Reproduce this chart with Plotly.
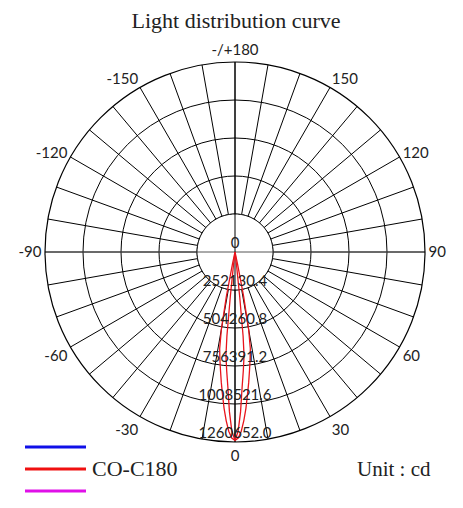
import plotly.graph_objects as go

# ---------------- data ----------------
ring_values = [252130.4, 504260.8, 756391.2, 1008521.6, 1260652.0]
ring_labels = ["252130.4", "504260.8", "756391.2", "1008521.6", "1260652.0"]
r_max = 1260652.0

angle_ticks = list(range(0, 360, 10))
angle_label_map = {0: "0", 30: "30", 60: "60", 90: "90", 120: "120", 150: "150",
                   180: "-/+180", 210: "-150", 240: "-120", 270: "-90", 300: "-60", 330: "-30"}
angle_labels = [angle_label_map.get(a, "") for a in angle_ticks]

# C0-C180 plane (wider lobe)
theta_c0 = [-13, -12, -11, -10, -9, -8, -7, -6, -5, -4, -3, -2, -1, 0,
            1, 2, 3, 4, 5, 6, 7, 8, 9, 10, 11, 12, 13]
cd_c0 = [0, 80000, 300000, 520000, 650000, 720000, 790000, 870000, 950000, 1040000, 1120000, 1190000, 1235000, 1250000,
         1235000, 1190000, 1120000, 1040000, 950000, 870000, 790000, 720000, 650000, 520000, 300000, 80000, 0]

# second plane (narrow lobe)
theta_c90 = [-7, -6.5, -6, -5.5, -5, -4, -3, -2, -1, 0, 1, 2, 3, 4, 5, 5.5, 6, 6.5, 7]
cd_c90 = [0, 100000, 300000, 560000, 690000, 790000, 900000, 1060000, 1190000, 1250000,
          1190000, 1060000, 900000, 790000, 690000, 560000, 300000, 100000, 0]

# ---------------- figure ----------------
OFF = 8                      # page body margin of the browser
W, H = 463 - OFF, 508 - OFF
L, T, D = 45 - OFF, 62 - OFF, 380  # plot area left, top, size (in figure px)
fig = go.Figure()

# white inner disk hiding spokes
circ_theta = list(range(0, 361, 2))
fig.add_trace(go.Scatterpolar(r=[ring_values[0]] * len(circ_theta), theta=circ_theta,
                              mode="lines", fill="toself", fillcolor="white",
                              line=dict(color="black", width=1), hoverinfo="skip", showlegend=False))
# axes through centre
fig.add_trace(go.Scatterpolar(r=[r_max, 0, r_max], theta=[90, 90, 270], mode="lines",
                              line=dict(color="#555555", width=1), hoverinfo="skip", showlegend=False))
fig.add_trace(go.Scatterpolar(r=[r_max, 0, r_max], theta=[0, 0, 180], mode="lines",
                              line=dict(color="black", width=1), hoverinfo="skip", showlegend=False))

# curves
fig.add_trace(go.Scatterpolar(r=cd_c0, theta=theta_c0, mode="lines",
                              line=dict(color="#e8141c", width=1.3), showlegend=False))
fig.add_trace(go.Scatterpolar(r=cd_c90, theta=theta_c90, mode="lines",
                              line=dict(color="#e8141c", width=1.3), showlegend=False))

# ring labels
fig.add_trace(go.Scatterpolar(r=[0] + ring_values, theta=[0] * (len(ring_values) + 1),
                              mode="text", text=["0"] + ring_labels, textposition="top center",
                              textfont=dict(family="Lato, sans-serif", size=15, color="#222222"),
                              hoverinfo="skip", showlegend=False))

fig.update_layout(
    width=W, height=H,
    margin=dict(l=L, r=W - L - D, t=T, b=H - T - D),
    paper_bgcolor="white", plot_bgcolor="white",
    showlegend=False,
    title=dict(text="Light distribution curve", x=(236 - OFF) / W, xref="container", xanchor="center",
               y=1 - (20 - OFF) / H, yref="container", yanchor="middle",
               font=dict(family="Liberation Serif, serif", size=22, color="#222222")),
    polar=dict(
        bgcolor="white",
        domain=dict(x=[0, 1], y=[0, 1]),
        angularaxis=dict(rotation=-90, direction="counterclockwise",
                         tickmode="array", tickvals=angle_ticks, ticktext=angle_labels,
                         ticks="", showline=True, linecolor="black", linewidth=1.2,
                         gridcolor="black", gridwidth=1,
                         tickfont=dict(family="Lato, sans-serif", size=15, color="#222222")),
        radialaxis=dict(range=[0, r_max], tickmode="array", tickvals=ring_values,
                        showticklabels=False, ticks="", showline=False,
                        gridcolor="black", gridwidth=1),
    ),
)

def px_x(x):
    return (x - OFF - L) / D

def px_y(y):
    return (T + D - (y - OFF)) / D

legend_colors = ["#1010e8", "#f01010", "#e010e8"]
legend_y = [447, 469, 491]
for c, yy in zip(legend_colors, legend_y):
    fig.add_shape(type="line", xref="paper", yref="paper",
                  x0=px_x(25), x1=px_x(86), y0=px_y(yy), y1=px_y(yy),
                  line=dict(color=c, width=3))

fig.add_annotation(text="CO-C180", xref="paper", yref="paper", x=px_x(90), y=px_y(469),
                   xanchor="left", yanchor="middle", showarrow=False,
                   font=dict(family="Liberation Serif, serif", size=22, color="#222222"))
fig.add_annotation(text="Unit : cd", xref="paper", yref="paper", x=px_x(433), y=px_y(469),
                   xanchor="right", yanchor="middle", showarrow=False,
                   font=dict(family="Liberation Serif, serif", size=21, color="#222222"))

fig.write_html("out.html")
